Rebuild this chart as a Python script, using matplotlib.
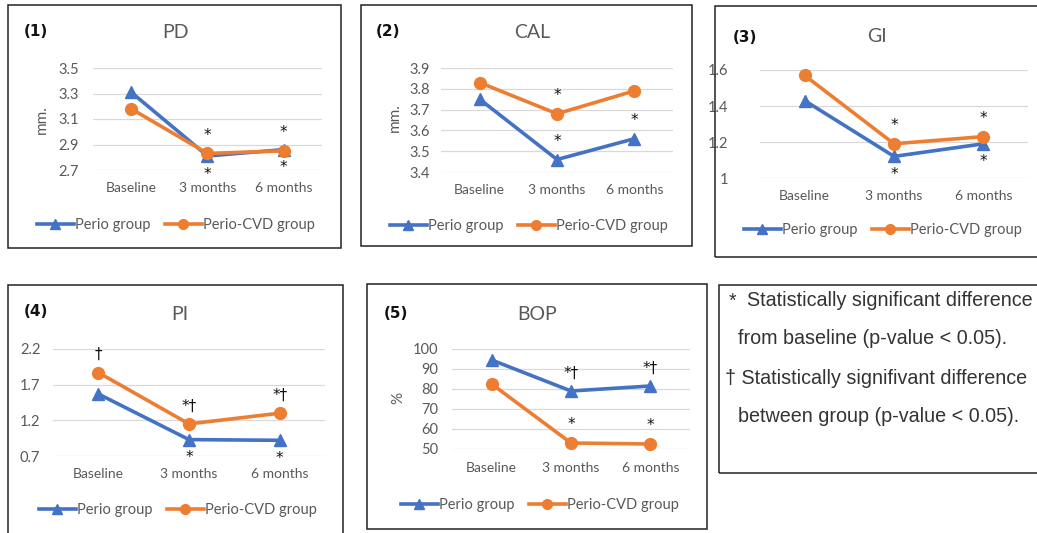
import matplotlib
matplotlib.use("Agg")
import matplotlib.pyplot as plt
from matplotlib.patches import Rectangle
from matplotlib.lines import Line2D

# data
categories = ['Baseline', '3 months', '6 months']

pd_perio = [3.31, 2.81, 2.86]
pd_cvd = [3.18, 2.83, 2.85]
cal_perio = [3.75, 3.46, 3.56]
cal_cvd = [3.83, 3.68, 3.79]
gi_perio = [1.43, 1.12, 1.19]
gi_cvd = [1.57, 1.19, 1.23]
pi_perio = [1.57, 0.93, 0.92]
pi_cvd = [1.87, 1.15, 1.30]
bop_perio = [94.5, 79.0, 81.5]
bop_cvd = [82.5, 53.0, 52.5]

pd_ticks = [2.7, 2.9, 3.1, 3.3, 3.5]
cal_ticks = [3.4, 3.5, 3.6, 3.7, 3.8, 3.9]
gi_ticks = [1.0, 1.2, 1.4, 1.6]
gi_ticklabels = ['1', '1.2', '1.4', '1.6']
pi_ticks = [0.7, 1.2, 1.7, 2.2]
bop_ticks = [50, 60, 70, 80, 90, 100]

# significance marks: (category index, series, text, side)
pd_marks = [(1, 'cvd', '*', 'up'), (1, 'perio', '*', 'down'),
            (2, 'cvd', '*', 'up'), (2, 'perio', '*', 'down')]
cal_marks = [(1, 'cvd', '*', 'up'), (1, 'perio', '*', 'up'), (2, 'perio', '*', 'up')]
gi_marks = [(1, 'cvd', '*', 'up'), (1, 'perio', '*', 'down'),
            (2, 'cvd', '*', 'up'), (2, 'perio', '*', 'down')]
pi_marks = [(0, 'cvd', '\u2020', 'up'), (1, 'cvd', '*\u2020', 'up'), (1, 'perio', '*', 'down'),
            (2, 'cvd', '*\u2020', 'up'), (2, 'perio', '*', 'down')]
bop_marks = [(1, 'perio', '*\u2020', 'up'), (2, 'perio', '*\u2020', 'up'),
             (1, 'cvd', '*', 'up'), (2, 'cvd', '*', 'up')]

W, H = 1037, 533
BLUE = '#4472C4'
ORANGE = '#ED7D31'
GREY = '#595959'

plt.rcParams['font.family'] = ['Lato', 'DejaVu Sans']

fig = plt.figure(figsize=(W / 100, H / 100), dpi=100)


def fx(x):
    return x / W


def fy(y):
    return 1 - y / H


def box(x0, y0, x1, y1):
    fig.patches.append(Rectangle((fx(x0), fy(y1)), fx(x1 - x0), (y1 - y0) / H,
                                 transform=fig.transFigure, fill=False,
                                 edgecolor='#222222', lw=1.1))


def panel(rect, perio, cvd, ticks, ticklabels, ylabel, num, title, marks,
          num_xy, title_xy, leg_xy, ypad, ylabel_x):
    x0, y0, x1, y1 = rect
    ax = fig.add_axes([fx(x0), fy(y1), fx(x1 - x0), (y1 - y0) / H])
    xs = range(len(categories))
    ax.plot(xs, perio, color=BLUE, lw=2.6, marker='^', ms=8.5, label='Perio group', clip_on=False)
    ax.plot(xs, cvd, color=ORANGE, lw=2.6, marker='o', ms=8.5, label='Perio-CVD group', clip_on=False)
    ax.set_xlim(-0.5, 2.5)
    ax.set_ylim(ticks[0], ticks[-1])
    ax.set_yticks(ticks)
    ax.set_yticklabels(ticklabels if ticklabels else [f'{t:g}' for t in ticks])
    ax.set_xticks(list(xs))
    ax.set_xticklabels(categories)
    ax.tick_params(axis='both', length=0, labelcolor=GREY)
    ax.tick_params(axis='y', pad=ypad, labelsize=10.5)
    ax.tick_params(axis='x', pad=9, labelsize=10)
    ax.grid(axis='y', color='#d9d9d9', lw=0.9)
    ax.set_axisbelow(True)
    for s in ax.spines.values():
        s.set_visible(False)
    series = {'perio': perio, 'cvd': cvd}
    for i, key, txt, side in marks:
        off = 13 if side == 'up' else -13
        ax.annotate(txt, (i, series[key][i]), xytext=(0, off), textcoords='offset points',
                    ha='center', va='center', fontsize=11, color='#111111',
                    family=['DejaVu Sans'], annotation_clip=False)
    if ylabel:
        fig.text(fx(ylabel_x[0]), fy(ylabel_x[1]), ylabel, rotation=90, ha='center', va='center',
                 fontsize=11, color=GREY)
    fig.text(fx(num_xy[0]), fy(num_xy[1]), num, ha='left', va='center', fontsize=11,
             fontweight='bold', color='#111111', family=['DejaVu Sans'])
    fig.text(fx(title_xy[0]), fy(title_xy[1]), title, ha='center', va='center', fontsize=14,
             color=GREY)
    handles = [Line2D([], [], color=BLUE, lw=2.6, marker='^', ms=7),
               Line2D([], [], color=ORANGE, lw=2.6, marker='o', ms=7)]
    ax.legend(handles, ['Perio group', 'Perio-CVD group'], loc='center',
              bbox_to_anchor=(fx(leg_xy[0]), fy(leg_xy[1])), bbox_transform=fig.transFigure,
              ncol=2, frameon=False, fontsize=10.5, handlelength=2.5, handletextpad=0.1,
              columnspacing=1.0, labelcolor=GREY)
    return ax


# panel boxes
box(8, 5, 341, 248)
box(361, 5, 692, 246)
box(715, 6, 1045, 257)
box(8, 285, 343, 545)
box(367, 284, 707, 529)
box(719, 285, 1045, 473)

panel((93, 68, 322, 170), pd_perio, pd_cvd, pd_ticks, None, 'mm.', '(1)', 'PD', pd_marks,
      (24, 31), (175, 33), (176, 225), 10, (42, 120))
panel((441, 68, 673, 172), cal_perio, cal_cvd, cal_ticks, None, 'mm.', '(2)', 'CAL', cal_marks,
      (376, 31), (532, 33), (529, 226), 8, (395, 118))
panel((760, 70, 1028, 178), gi_perio, gi_cvd, gi_ticks, gi_ticklabels, None, '(3)', 'GI', gi_marks,
      (733, 38), (877, 37), (883, 230), 23, None)
panel((53, 349, 325, 456), pi_perio, pi_cvd, pi_ticks, None, None, '(4)', 'PI', pi_marks,
      (24, 311), (180, 315), (178, 510), 9, None)
panel((452, 349, 690, 449), bop_perio, bop_cvd, bop_ticks, None, '%', '(5)', 'BOP', bop_marks,
      (384, 313), (537, 315), (540, 505), 10, (398, 398))

# footnote box
note_kw = dict(fontsize=14.2, color='#333333', va='center', ha='left',
               family=['Liberation Sans', 'DejaVu Sans'])
fig.text(fx(729), fy(301), '*', **note_kw)
fig.text(fx(747), fy(301), 'Statistically significant difference', **note_kw)
fig.text(fx(738), fy(339), 'from baseline (p-value < 0.05).', **note_kw)
fig.text(fx(725), fy(378), '\u2020 Statistically signifivant difference', **note_kw)
fig.text(fx(738), fy(417), 'between group (p-value < 0.05).', **note_kw)

fig.savefig('out.png', dpi=100, facecolor='white')
